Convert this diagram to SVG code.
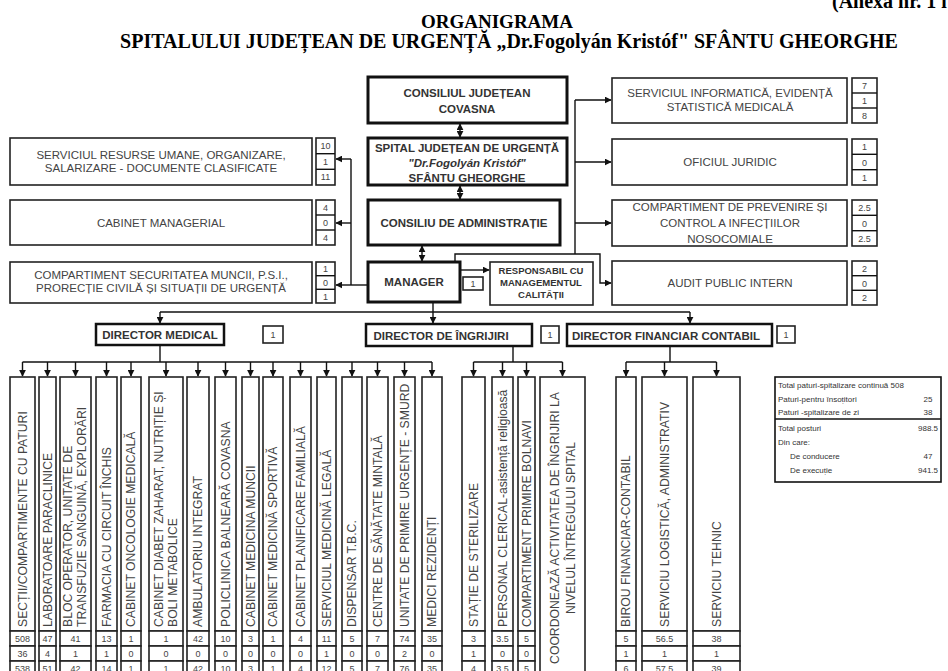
<svg xmlns="http://www.w3.org/2000/svg" width="948" height="671" viewBox="0 0 948 671">
<defs>
<marker id="ah" viewBox="0 0 10 10" refX="9" refY="5" markerWidth="7" markerHeight="7" markerUnits="userSpaceOnUse" orient="auto-start-reverse"><path d="M0,0 L10,5 L0,10 z" fill="#111"/></marker>
</defs>
<style>
.ti{font-family:"Liberation Serif","Times New Roman",serif;font-weight:bold;font-size:20px;fill:#000;text-anchor:middle}
.bx{fill:#fff;stroke:#222;stroke-width:1.6}
.bk{fill:#fff;stroke:#111;stroke-width:3}
.t{font-family:"Liberation Sans",Arial,sans-serif;font-size:11.5px;fill:#444;text-anchor:middle}
.tb{font-family:"Liberation Sans",Arial,sans-serif;font-size:11.5px;font-weight:bold;fill:#333;text-anchor:middle}
.rs{font-size:9.5px}
.n{font-family:"Liberation Sans",Arial,sans-serif;font-size:9px;fill:#444;text-anchor:middle}
.c{font-family:"Liberation Sans",Arial,sans-serif;font-size:12.2px;fill:#444}
.cm{text-anchor:middle}
.tab{font-family:"Liberation Sans",Arial,sans-serif;font-size:8px;fill:#333}
.ln{fill:none;stroke:#111;stroke-width:1.4}
.ar{marker-end:url(#ah)}
.ar2{marker-end:url(#ah);marker-start:url(#ah)}
</style>
<rect width="948" height="671" fill="#fff"/>
<g id="title">
<text x="832" y="8" class="ti" style="text-anchor:start">(Anexa nr. 1 l</text>
<text x="497" y="28" class="ti" style="font-size:19px">ORGANIGRAMA</text>
<text x="509" y="48" class="ti">SPITALULUI JUDEȚEAN DE URGENȚĂ „Dr.Fogolyán Kristóf" SFÂNTU GHEORGHE</text>
</g>
<g id="connectors">
<line class="ln ar2" x1="460" y1="124" x2="460" y2="137"/>
<line class="ln ar2" x1="460" y1="186" x2="460" y2="199"/>
<line class="ln ar2" x1="422" y1="246" x2="422" y2="261"/>
<line class="ln ar" x1="368" y1="285" x2="336" y2="285"/>
<polyline class="ln" points="351,285 351,159"/>
<line class="ln ar" x1="351" y1="159" x2="336" y2="159"/>
<line class="ln ar" x1="351" y1="223" x2="336" y2="223"/>
<line class="ln ar" x1="460" y1="270" x2="489" y2="270"/>
<polyline class="ln ar" points="455,262 455,254 600,254 600,283 611,283"/>
<polyline class="ln" points="575,254 575,100"/>
<line class="ln ar" x1="575" y1="100" x2="611" y2="100"/>
<line class="ln ar" x1="575" y1="162" x2="611" y2="162"/>
<line class="ln ar" x1="575" y1="223" x2="611" y2="223"/>
<line class="ln ar" x1="433" y1="302" x2="433" y2="323"/>
<polyline class="ln" points="160,312 690,312"/>
<line class="ln ar" x1="160" y1="312" x2="160" y2="323"/>
<line class="ln ar" x1="690" y1="312" x2="690" y2="323"/>
<line class="ln" x1="160" y1="346" x2="160" y2="362"/>
<line class="ln" x1="22.5" y1="362" x2="432" y2="362"/>
<line class="ln ar" x1="22.5" y1="362" x2="22.5" y2="376"/>
<line class="ln ar" x1="47.5" y1="362" x2="47.5" y2="376"/>
<line class="ln ar" x1="75.5" y1="362" x2="75.5" y2="376"/>
<line class="ln ar" x1="106.5" y1="362" x2="106.5" y2="376"/>
<line class="ln ar" x1="131" y1="362" x2="131" y2="376"/>
<line class="ln ar" x1="166" y1="362" x2="166" y2="376"/>
<line class="ln ar" x1="198" y1="362" x2="198" y2="376"/>
<line class="ln ar" x1="225.5" y1="362" x2="225.5" y2="376"/>
<line class="ln ar" x1="250.5" y1="362" x2="250.5" y2="376"/>
<line class="ln ar" x1="273" y1="362" x2="273" y2="376"/>
<line class="ln ar" x1="300.5" y1="362" x2="300.5" y2="376"/>
<line class="ln ar" x1="326.5" y1="362" x2="326.5" y2="376"/>
<line class="ln ar" x1="352" y1="362" x2="352" y2="376"/>
<line class="ln ar" x1="377.5" y1="362" x2="377.5" y2="376"/>
<line class="ln ar" x1="404.5" y1="362" x2="404.5" y2="376"/>
<line class="ln ar" x1="432" y1="362" x2="432" y2="376"/>
<line class="ln" x1="513" y1="347" x2="513" y2="362"/>
<line class="ln" x1="473.5" y1="362" x2="562.5" y2="362"/>
<line class="ln ar" x1="473.5" y1="362" x2="473.5" y2="376"/>
<line class="ln ar" x1="502.5" y1="362" x2="502.5" y2="376"/>
<line class="ln ar" x1="526.5" y1="362" x2="526.5" y2="376"/>
<line class="ln ar" x1="562.5" y1="362" x2="562.5" y2="376"/>
<line class="ln" x1="670" y1="347" x2="670" y2="362"/>
<line class="ln" x1="626" y1="362" x2="716.5" y2="362"/>
<line class="ln ar" x1="626" y1="362" x2="626" y2="376"/>
<line class="ln ar" x1="664.5" y1="362" x2="664.5" y2="376"/>
<line class="ln ar" x1="716.5" y1="362" x2="716.5" y2="376"/>
</g>
<g id="cj"><rect class="bk" x="368" y="77" width="199" height="46"/><text class="tb" x="467" y="97">CONSILIUL JUDEȚEAN</text><text class="tb" x="467" y="113">COVASNA</text></g>
<g id="spital"><rect class="bk" x="368" y="138" width="199" height="47"/><text class="tb" x="467" y="152">SPITAL JUDEȚEAN DE URGENȚĂ</text><text class="tb" x="467" y="167" font-style="italic">"Dr.Fogolyán Kristóf"</text><text class="tb" x="467" y="182">SFÂNTU GHEORGHE</text></g>
<g id="consiliu"><rect class="bk" x="368" y="200" width="192" height="45"/><text class="tb" x="464" y="227">CONSILIU DE ADMINISTRAȚIE</text></g>
<g id="manager"><rect class="bk" x="368" y="262" width="92" height="40"/><text class="tb" x="414" y="286">MANAGER</text></g>
<g id="manager-n"><rect class="bx" x="463" y="277" width="20" height="13"/><text class="n" x="473" y="287">1</text></g>
<g id="responsabil"><rect class="bx" x="490" y="262" width="103" height="43"/><text class="tb rs" x="541" y="274">RESPONSABIL CU</text><text class="tb rs" x="541" y="286">MANAGEMENTUL</text><text class="tb rs" x="541" y="298">CALITĂȚII</text></g>
<g id="ru"><rect class="bx" x="10" y="138" width="302" height="47"/><text class="t" x="161" y="159">SERVICIUL RESURSE UMANE, ORGANIZARE,</text><text class="t" x="161" y="172">SALARIZARE - DOCUMENTE CLASIFICATE</text>
<rect class="bx" x="316" y="138" width="19" height="47"/><line class="ln" x1="316" y1="153.7" x2="335" y2="153.7"/><line class="ln" x1="316" y1="169.3" x2="335" y2="169.3"/><text class="n" x="325.5" y="149">10</text><text class="n" x="325.5" y="165">1</text><text class="n" x="325.5" y="180">11</text></g>
<g id="cabinet"><rect class="bx" x="10" y="200" width="302" height="45"/><text class="t" x="161" y="227">CABINET MANAGERIAL</text>
<rect class="bx" x="316" y="200" width="19" height="45"/><line class="ln" x1="316" y1="215" x2="335" y2="215"/><line class="ln" x1="316" y1="230" x2="335" y2="230"/><text class="n" x="325.5" y="211">4</text><text class="n" x="325.5" y="226">0</text><text class="n" x="325.5" y="241">4</text></g>
<g id="securitate"><rect class="bx" x="10" y="262" width="302" height="41"/><text class="t" x="161" y="279">COMPARTIMENT SECURITATEA MUNCII, P.S.I.,</text><text class="t" x="161" y="292">PRORECȚIE CIVILĂ ȘI SITUAȚII DE URGENȚĂ</text>
<rect class="bx" x="316" y="262" width="19" height="41"/><line class="ln" x1="316" y1="275.7" x2="335" y2="275.7"/><line class="ln" x1="316" y1="289.3" x2="335" y2="289.3"/><text class="n" x="325.5" y="272">1</text><text class="n" x="325.5" y="286">0</text><text class="n" x="325.5" y="300">1</text></g>
<g id="informatica"><rect class="bx" x="612" y="78" width="235" height="45"/><text class="t" x="730" y="97">SERVICIUL INFORMATICĂ, EVIDENȚĂ</text><text class="t" x="730" y="111">STATISTICĂ MEDICALĂ</text>
<rect class="bx" x="852" y="78" width="25" height="45"/><line class="ln" x1="852" y1="93" x2="877" y2="93"/><line class="ln" x1="852" y1="108" x2="877" y2="108"/><text class="n" x="864.5" y="89">7</text><text class="n" x="864.5" y="104">1</text><text class="n" x="864.5" y="119">8</text></g>
<g id="juridic"><rect class="bx" x="612" y="139" width="235" height="46"/><text class="t" x="730" y="166">OFICIUL JURIDIC</text>
<rect class="bx" x="852" y="139" width="25" height="46"/><line class="ln" x1="852" y1="154.3" x2="877" y2="154.3"/><line class="ln" x1="852" y1="169.7" x2="877" y2="169.7"/><text class="n" x="864.5" y="150">1</text><text class="n" x="864.5" y="166">0</text><text class="n" x="864.5" y="181">1</text></g>
<g id="infectii"><rect class="bx" x="612" y="200" width="235" height="46"/><text class="t" x="730" y="211">COMPARTIMENT DE PREVENIRE ȘI</text><text class="t" x="730" y="227">CONTROL  A INFECȚIILOR</text><text class="t" x="730" y="243">NOSOCOMIALE</text>
<rect class="bx" x="852" y="200" width="25" height="46"/><line class="ln" x1="852" y1="215.3" x2="877" y2="215.3"/><line class="ln" x1="852" y1="230.7" x2="877" y2="230.7"/><text class="n" x="864.5" y="211">2.5</text><text class="n" x="864.5" y="227">0</text><text class="n" x="864.5" y="242">2.5</text></g>
<g id="audit"><rect class="bx" x="612" y="261" width="235" height="44"/><text class="t" x="730" y="287">AUDIT PUBLIC INTERN</text>
<rect class="bx" x="852" y="261" width="25" height="44"/><line class="ln" x1="852" y1="275.7" x2="877" y2="275.7"/><line class="ln" x1="852" y1="290.3" x2="877" y2="290.3"/><text class="n" x="864.5" y="272">2</text><text class="n" x="864.5" y="287">0</text><text class="n" x="864.5" y="301">2</text></g>
<g id="dir-medical"><rect class="bk" x="96" y="324" width="128" height="21" style="stroke-width:2.5"/><text class="tb" x="160" y="339">DIRECTOR MEDICAL</text><rect class="bx" x="263" y="326" width="20" height="17"/><text class="n" x="273" y="338">1</text></g>
<g id="dir-ingrijiri"><rect class="bk" x="366" y="324" width="166" height="22" style="stroke-width:2.5"/><text class="tb" x="441" y="340">DIRECTOR DE ÎNGRIJIRI</text><rect class="bx" x="541" y="326" width="18" height="17"/><text class="n" x="550" y="338">1</text></g>
<g id="dir-financiar"><rect class="bk" x="567" y="324" width="205" height="22" style="stroke-width:2.5"/><text class="tb" x="666" y="340">DIRECTOR FINANCIAR CONTABIL</text><rect class="bx" x="777" y="326" width="18" height="17"/><text class="n" x="786" y="338">1</text></g>
<g id="columns">
<g id="c1"><rect class="bx" x="10" y="377" width="25" height="254"/><text class="c" transform="translate(27,627) rotate(-90)">SECȚII/COMPARTIMENTE CU PATURI</text><rect class="bx" x="10" y="631" width="25" height="15"/><rect class="bx" x="10" y="646" width="25" height="15"/><rect class="bx" x="10" y="661" width="25" height="15"/><text class="n" x="22.5" y="642">508</text><text class="n" x="22.5" y="657">36</text><text class="n" x="22.5" y="672">538</text></g>
<g id="c2"><rect class="bx" x="39" y="377" width="17" height="254"/><text class="c" transform="translate(52,627) rotate(-90)">LABORATOARE PARACLINICE</text><rect class="bx" x="39" y="631" width="17" height="15"/><rect class="bx" x="39" y="646" width="17" height="15"/><rect class="bx" x="39" y="661" width="17" height="15"/><text class="n" x="47.5" y="642">47</text><text class="n" x="47.5" y="657">4</text><text class="n" x="47.5" y="672">51</text></g>
<g id="c3"><rect class="bx" x="60" y="377" width="31" height="254"/><text class="c" transform="translate(72,627) rotate(-90)">BLOC OPERATOR, UNITATE DE</text><text class="c" transform="translate(86,627) rotate(-90)">TRANSFUZIE SANGUINĂ, EXPLORĂRI</text><rect class="bx" x="60" y="631" width="31" height="15"/><rect class="bx" x="60" y="646" width="31" height="15"/><rect class="bx" x="60" y="661" width="31" height="15"/><text class="n" x="75.5" y="642">41</text><text class="n" x="75.5" y="657">1</text><text class="n" x="75.5" y="672">42</text></g>
<g id="c4"><rect class="bx" x="96" y="377" width="21" height="254"/><text class="c" transform="translate(111,627) rotate(-90)">FARMACIA CU CIRCUIT ÎNCHIS</text><rect class="bx" x="96" y="631" width="21" height="15"/><rect class="bx" x="96" y="646" width="21" height="15"/><rect class="bx" x="96" y="661" width="21" height="15"/><text class="n" x="106.5" y="642">13</text><text class="n" x="106.5" y="657">1</text><text class="n" x="106.5" y="672">14</text></g>
<g id="c5"><rect class="bx" x="121" y="377" width="20" height="254"/><text class="c" transform="translate(135,627) rotate(-90)">CABINET ONCOLOGIE MEDICALĂ</text><rect class="bx" x="121" y="631" width="20" height="15"/><rect class="bx" x="121" y="646" width="20" height="15"/><rect class="bx" x="121" y="661" width="20" height="15"/><text class="n" x="131" y="642">1</text><text class="n" x="131" y="657">0</text><text class="n" x="131" y="672">1</text></g>
<g id="c6"><rect class="bx" x="149" y="377" width="34" height="254"/><text class="c" transform="translate(163,627) rotate(-90)">CABINET DIABET ZAHARAT, NUTRIȚIE ȘI</text><text class="c" transform="translate(177,627) rotate(-90)">BOLI METABOLICE</text><rect class="bx" x="149" y="631" width="34" height="15"/><rect class="bx" x="149" y="646" width="34" height="15"/><rect class="bx" x="149" y="661" width="34" height="15"/><text class="n" x="166" y="642">1</text><text class="n" x="166" y="657">0</text><text class="n" x="166" y="672">1</text></g>
<g id="c7"><rect class="bx" x="187" y="377" width="22" height="254"/><text class="c" transform="translate(202,627) rotate(-90)">AMBULATORIU INTEGRAT</text><rect class="bx" x="187" y="631" width="22" height="15"/><rect class="bx" x="187" y="646" width="22" height="15"/><rect class="bx" x="187" y="661" width="22" height="15"/><text class="n" x="198" y="642">42</text><text class="n" x="198" y="657">0</text><text class="n" x="198" y="672">42</text></g>
<g id="c8"><rect class="bx" x="215" y="377" width="21" height="254"/><text class="c" transform="translate(230,627) rotate(-90)">POLICLINICA BALNEARĂ COVASNA</text><rect class="bx" x="215" y="631" width="21" height="15"/><rect class="bx" x="215" y="646" width="21" height="15"/><rect class="bx" x="215" y="661" width="21" height="15"/><text class="n" x="225.5" y="642">10</text><text class="n" x="225.5" y="657">0</text><text class="n" x="225.5" y="672">10</text></g>
<g id="c9"><rect class="bx" x="242" y="377" width="17" height="254"/><text class="c" transform="translate(255,627) rotate(-90)">CABINET MEDICINA MUNCII</text><rect class="bx" x="242" y="631" width="17" height="15"/><rect class="bx" x="242" y="646" width="17" height="15"/><rect class="bx" x="242" y="661" width="17" height="15"/><text class="n" x="250.5" y="642">3</text><text class="n" x="250.5" y="657">0</text><text class="n" x="250.5" y="672">3</text></g>
<g id="c10"><rect class="bx" x="263" y="377" width="20" height="254"/><text class="c" transform="translate(277,627) rotate(-90)">CABINET MEDICINĂ SPORTIVĂ</text><rect class="bx" x="263" y="631" width="20" height="15"/><rect class="bx" x="263" y="646" width="20" height="15"/><rect class="bx" x="263" y="661" width="20" height="15"/><text class="n" x="273" y="642">1</text><text class="n" x="273" y="657">0</text><text class="n" x="273" y="672">1</text></g>
<g id="c11"><rect class="bx" x="290" y="377" width="21" height="254"/><text class="c" transform="translate(305,627) rotate(-90)">CABINET PLANIFICARE FAMILIALĂ</text><rect class="bx" x="290" y="631" width="21" height="15"/><rect class="bx" x="290" y="646" width="21" height="15"/><rect class="bx" x="290" y="661" width="21" height="15"/><text class="n" x="300.5" y="642">4</text><text class="n" x="300.5" y="657">0</text><text class="n" x="300.5" y="672">4</text></g>
<g id="c12"><rect class="bx" x="317" y="377" width="19" height="254"/><text class="c" transform="translate(331,627) rotate(-90)">SERVICIUL MEDICINĂ LEGALĂ</text><rect class="bx" x="317" y="631" width="19" height="15"/><rect class="bx" x="317" y="646" width="19" height="15"/><rect class="bx" x="317" y="661" width="19" height="15"/><text class="n" x="326.5" y="642">11</text><text class="n" x="326.5" y="657">1</text><text class="n" x="326.5" y="672">12</text></g>
<g id="c13"><rect class="bx" x="342" y="377" width="20" height="254"/><text class="c" transform="translate(356,627) rotate(-90)">DISPENSAR T.B.C.</text><rect class="bx" x="342" y="631" width="20" height="15"/><rect class="bx" x="342" y="646" width="20" height="15"/><rect class="bx" x="342" y="661" width="20" height="15"/><text class="n" x="352" y="642">5</text><text class="n" x="352" y="657">0</text><text class="n" x="352" y="672">5</text></g>
<g id="c14"><rect class="bx" x="367" y="377" width="21" height="254"/><text class="c" transform="translate(382,627) rotate(-90)">CENTRE DE SĂNĂTATE MINTALĂ</text><rect class="bx" x="367" y="631" width="21" height="15"/><rect class="bx" x="367" y="646" width="21" height="15"/><rect class="bx" x="367" y="661" width="21" height="15"/><text class="n" x="377.5" y="642">7</text><text class="n" x="377.5" y="657">0</text><text class="n" x="377.5" y="672">7</text></g>
<g id="c15"><rect class="bx" x="394" y="377" width="21" height="254"/><text class="c" transform="translate(409,627) rotate(-90)">UNITATE DE PRIMIRE URGENȚE - SMURD</text><rect class="bx" x="394" y="631" width="21" height="15"/><rect class="bx" x="394" y="646" width="21" height="15"/><rect class="bx" x="394" y="661" width="21" height="15"/><text class="n" x="404.5" y="642">74</text><text class="n" x="404.5" y="657">2</text><text class="n" x="404.5" y="672">76</text></g>
<g id="c16"><rect class="bx" x="422" y="377" width="20" height="254"/><text class="c" transform="translate(436,627) rotate(-90)">MEDICI REZIDENȚI</text><rect class="bx" x="422" y="631" width="20" height="15"/><rect class="bx" x="422" y="646" width="20" height="15"/><rect class="bx" x="422" y="661" width="20" height="15"/><text class="n" x="432" y="642">35</text><text class="n" x="432" y="657">0</text><text class="n" x="432" y="672">35</text></g>
<g id="c17"><rect class="bx" x="462" y="377" width="23" height="254"/><text class="c" transform="translate(478,627) rotate(-90)">STAȚIE DE STERILIZARE</text><rect class="bx" x="462" y="631" width="23" height="15"/><rect class="bx" x="462" y="646" width="23" height="15"/><rect class="bx" x="462" y="661" width="23" height="15"/><text class="n" x="473.5" y="642">3</text><text class="n" x="473.5" y="657">1</text><text class="n" x="473.5" y="672">4</text></g>
<g id="c18"><rect class="bx" x="492" y="377" width="21" height="254"/><text class="c" transform="translate(507,627) rotate(-90)">PERSONAL CLERICAL-asistență religioasă</text><rect class="bx" x="492" y="631" width="21" height="15"/><rect class="bx" x="492" y="646" width="21" height="15"/><rect class="bx" x="492" y="661" width="21" height="15"/><text class="n" x="502.5" y="642">3.5</text><text class="n" x="502.5" y="657">0</text><text class="n" x="502.5" y="672">3.5</text></g>
<g id="c19"><rect class="bx" x="518" y="377" width="17" height="254"/><text class="c" transform="translate(531,627) rotate(-90)">COMPARTIMENT PRIMIRE BOLNAVI</text><rect class="bx" x="518" y="631" width="17" height="15"/><rect class="bx" x="518" y="646" width="17" height="15"/><rect class="bx" x="518" y="661" width="17" height="15"/><text class="n" x="526.5" y="642">5</text><text class="n" x="526.5" y="657">0</text><text class="n" x="526.5" y="672">5</text></g>
<g id="c20"><rect class="bx" x="540" y="377" width="45" height="300"/><text class="c cm" transform="translate(559,528) rotate(-90)">COORDONEAZĂ ACTIVITATEA DE ÎNGRIJIRI LA</text><text class="c cm" transform="translate(575,528) rotate(-90)">NIVELUL ÎNTREGULUI SPITAL</text></g>
<g id="c21"><rect class="bx" x="616" y="377" width="20" height="254"/><text class="c" transform="translate(630,627) rotate(-90)">BIROU FINANCIAR-CONTABIL</text><rect class="bx" x="616" y="631" width="20" height="15"/><rect class="bx" x="616" y="646" width="20" height="15"/><rect class="bx" x="616" y="661" width="20" height="15"/><text class="n" x="626" y="642">5</text><text class="n" x="626" y="657">1</text><text class="n" x="626" y="672">6</text></g>
<g id="c22"><rect class="bx" x="642" y="377" width="45" height="254"/><text class="c" transform="translate(669,627) rotate(-90)">SERVICIU LOGISTICĂ, ADMINISTRATIV</text><rect class="bx" x="642" y="631" width="45" height="15"/><rect class="bx" x="642" y="646" width="45" height="15"/><rect class="bx" x="642" y="661" width="45" height="15"/><text class="n" x="664.5" y="642">56.5</text><text class="n" x="664.5" y="657">1</text><text class="n" x="664.5" y="672">57.5</text></g>
<g id="c23"><rect class="bx" x="693" y="377" width="47" height="254"/><text class="c" transform="translate(721,627) rotate(-90)">SERVICIU TEHNIC</text><rect class="bx" x="693" y="631" width="47" height="15"/><rect class="bx" x="693" y="646" width="47" height="15"/><rect class="bx" x="693" y="661" width="47" height="15"/><text class="n" x="716.5" y="642">38</text><text class="n" x="716.5" y="657">1</text><text class="n" x="716.5" y="672">39</text></g>
</g>
<g id="table">
<rect x="775" y="377" width="166" height="105" fill="#fff" stroke="#111" stroke-width="1.6"/>
<line x1="775" y1="419" x2="941" y2="419" stroke="#111" stroke-width="1.6"/>
<text class="tab" x="778" y="388">Total paturi-spitalizare continuă 508</text>
<text class="tab" x="778" y="402">Paturi-pentru însoțitori</text><text class="tab" x="928" y="402" text-anchor="middle">25</text>
<text class="tab" x="778" y="415">Paturi -spitalizare de zi</text><text class="tab" x="928" y="415" text-anchor="middle">38</text>
<text class="tab" x="778" y="431">Total posturi</text><text class="tab" x="928" y="431" text-anchor="middle">988.5</text>
<text class="tab" x="778" y="445">Din care:</text>
<text class="tab" x="790" y="459">De conducere</text><text class="tab" x="928" y="459" text-anchor="middle">47</text>
<text class="tab" x="790" y="473">De execuție</text><text class="tab" x="928" y="473" text-anchor="middle">941.5</text>
</g>
</svg>
